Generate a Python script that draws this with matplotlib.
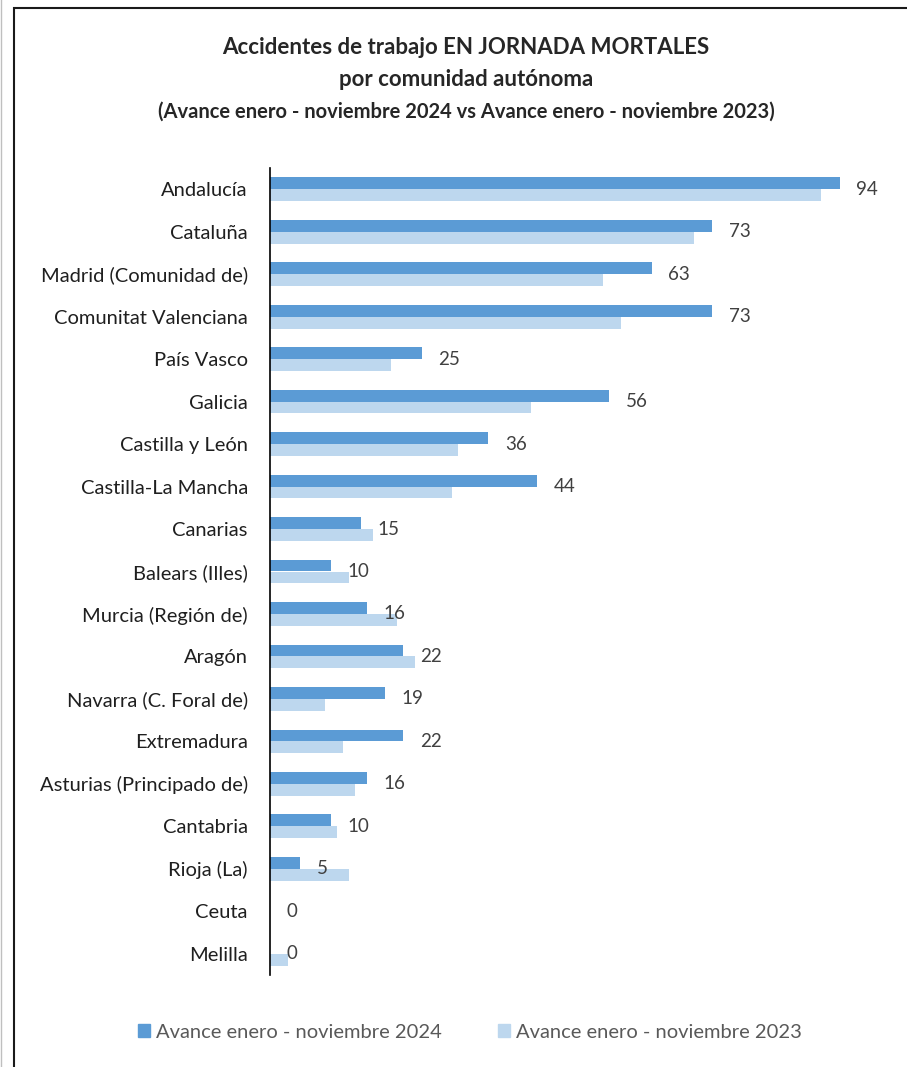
import numpy as np
import matplotlib.pyplot as plt
from matplotlib.patches import Rectangle
from matplotlib.lines import Line2D

# data
regions = ['Andalucía', 'Cataluña', 'Madrid (Comunidad de)', 'Comunitat Valenciana',
           'País Vasco', 'Galicia', 'Castilla y León', 'Castilla-La Mancha', 'Canarias',
           'Balears (Illes)', 'Murcia (Región de)', 'Aragón', 'Navarra (C. Foral de)',
           'Extremadura', 'Asturias (Principado de)', 'Cantabria', 'Rioja (La)', 'Ceuta',
           'Melilla']
v2024 = [94, 73, 63, 73, 25, 56, 36, 44, 15, 10, 16, 22, 19, 22, 16, 10, 5, 0, 0]
v2023 = [91, 70, 55, 58, 20, 43, 31, 30, 17, 13, 21, 24, 9, 12, 14, 11, 13, 0, 3]
labels = ['Avance enero - noviembre 2024', 'Avance enero - noviembre 2023']

dark = '#5B9BD5'
light = '#BDD7EE'
plt.rcParams['font.family'] = ['Lato', 'DejaVu Sans']

W, H = 907, 1067
fig = plt.figure(figsize=(W / 100, H / 100), dpi=100)
ax = fig.add_axes([270 / W, 1 - 975 / H, 606 / W, (975 - 168) / H])

y = np.arange(len(regions))
h = 0.28
ax.barh(y - h / 2, v2024, height=h, color=dark, label=labels[0])
ax.barh(y + h / 2, v2023, height=h, color=light, label=labels[1])

for i, v in enumerate(v2024):
    ax.annotate(str(v), (v, i), xytext=(12, 0), textcoords='offset points',
                va='center', ha='left', fontsize=13.5, color='#404040')

ax.set_xlim(0, 100)
ax.set_ylim(len(regions) - 0.5, -0.5)
ax.set_yticks(y)
ax.set_yticklabels(regions, fontsize=14.5, color='#1f1f1f')
ax.tick_params(axis='y', length=0, pad=16)
ax.set_xticks([])
for s in ['top', 'right', 'bottom']:
    ax.spines[s].set_visible(False)
ax.spines['left'].set_color('black')
ax.spines['left'].set_linewidth(1.2)

fig.text(466 / W, 1 - 47 / H, 'Accidentes de trabajo EN JORNADA MORTALES',
         ha='center', va='center', fontsize=16, fontweight='bold', color='#262626')
fig.text(466 / W, 1 - 80 / H, 'por comunidad autónoma',
         ha='center', va='center', fontsize=16, fontweight='bold', color='#262626')
fig.text(466 / W, 1 - 112 / H,
         '(Avance enero - noviembre 2024 vs Avance enero - noviembre 2023)',
         ha='center', va='center', fontsize=14.5, fontweight='bold', color='#262626')

handles = [Rectangle((0, 0), 1, 1, color=dark), Rectangle((0, 0), 1, 1, color=light)]
fig.legend(handles, labels, loc='center', bbox_to_anchor=(470 / W, 1 - 1032 / H),
           ncol=2, frameon=False, fontsize=14.5, handlelength=0.6, handleheight=0.6,
           handletextpad=0.3, columnspacing=2.8, labelcolor='#595959')

# outer frame
fig.add_artist(Rectangle((13.5 / W, -0.1), 1.2, 1.1 - 7.5 / H, transform=fig.transFigure,
                         fill=False, edgecolor='#1a1a1a', linewidth=1.5))
fig.add_artist(Line2D([0.8 / W, 0.8 / W], [0, 1], transform=fig.transFigure,
                      color='#bfbfbf', linewidth=1))

plt.savefig('out.png', dpi=100)
